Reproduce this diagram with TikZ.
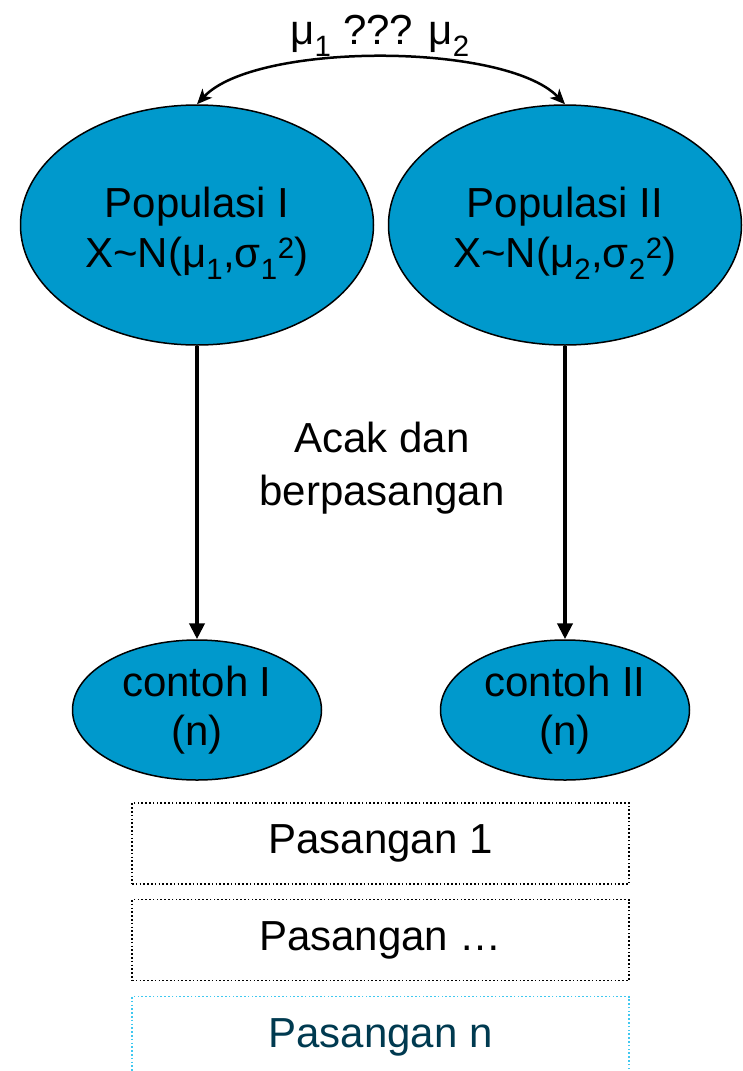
\documentclass[tikz,border=0pt]{standalone}
\usepackage{fontspec}
\setmainfont{Liberation Sans}
\usetikzlibrary{shapes.geometric,arrows.meta}
\definecolor{popblue}{RGB}{0,153,204}
\definecolor{lightcyan}{RGB}{64,200,240}
\definecolor{darkteal}{RGB}{0,58,80}
\newcommand{\sub}[1]{\textsubscript{#1}}
\newcommand{\sps}[1]{\textsuperscript{#1}}
\begin{document}
\begin{tikzpicture}[x=1pt,y=-1pt,
  bigtext/.style={font=\fontsize{42}{50}\selectfont, align=center},
  popnode/.style={ellipse, draw=black, line width=1.5pt, fill=popblue, minimum width=353pt, minimum height=240pt, inner sep=0pt, bigtext},
  samplenode/.style={ellipse, draw=black, line width=1.5pt, fill=popblue, minimum width=249pt, minimum height=140pt, inner sep=0pt, bigtext, font=\fontsize{42}{49}\selectfont},
  pairbox/.style={rectangle, draw=black, line width=1.6pt, dash pattern=on 1.6pt off 2.2pt, minimum width=497pt, minimum height=81pt, inner sep=0pt, bigtext},
  thinarrow/.style={{Stealth[length=15pt,width=13pt,inset=4pt]}-{Stealth[length=15pt,width=13pt,inset=4pt]}, line width=2.5pt},
  thickarrow/.style={-{Triangle[length=16pt,width=15pt]}, line width=4pt}
]
\useasboundingbox (0,0) rectangle (742,1071);
\node[popnode] (pop1) at (197,225) {};
\node[popnode] (pop2) at (565,225) {};
\node[bigtext] (t1) at (197,233) {Populasi I\\X\textasciitilde N(μ\sub{1},σ\sub{1}\sps{2})};
\node[bigtext] (t2) at (565,233) {Populasi II\\X\textasciitilde N(μ\sub{2},σ\sub{2}\sps{2})};
\node[bigtext] (mu) at (380,36) {μ\sub{1} ??? μ\sub{2}};
\draw[thinarrow] (pop1.north) .. controls (255,42) and (505,42) .. (pop2.north);
\node[samplenode] (c1) at (197,710) {contoh I\\(n)};
\node[samplenode] (c2) at (565,710) {contoh II\\(n)};
\draw[thickarrow] (pop1.south) -- (c1.north);
\draw[thickarrow] (pop2.south) -- (c2.north);
\node[bigtext, font=\fontsize{42}{53}\selectfont] (acak) at (382,468) {Acak dan\\berpasangan};
\node[pairbox] (p1) at (380.5,843.5) {Pasangan 1};
\node[pairbox] (p2) at (380.5,940) {Pasangan …};
\node[pairbox, draw=lightcyan, text=darkteal] (pn) at (380.5,1037) {Pasangan n};
\end{tikzpicture}
\end{document}
